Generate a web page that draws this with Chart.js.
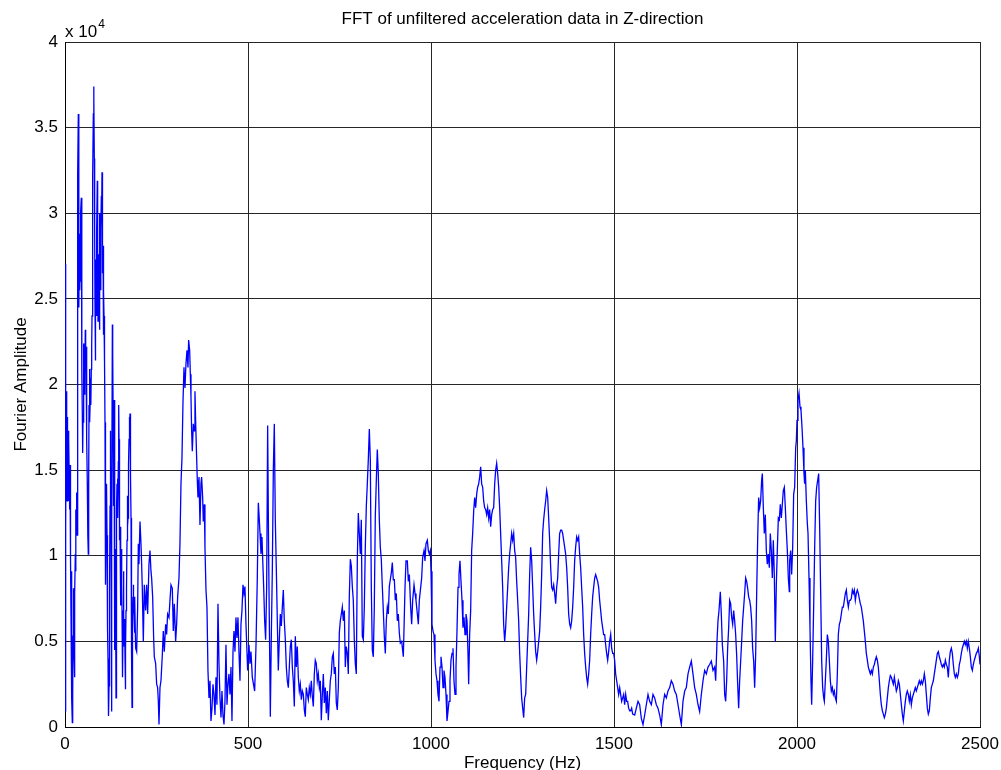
<!DOCTYPE html>
<html>
<head>
<meta charset="utf-8">
<title>FFT of unfiltered acceleration data in Z-direction</title>
<script src="https://cdn.jsdelivr.net/npm/chart.js@4/dist/chart.umd.min.js"></script>
<style>
  html, body { margin: 0; padding: 0; background: #ffffff; overflow: hidden; }
  #wrap { position: relative; width: 1001px; height: 770px; }
  canvas { display: block; }
</style>
</head>
<body>
<div id="wrap"><canvas id="fft" width="1001" height="770"></canvas></div>
<script>
// Spectrum of the Z-axis accelerometer signal, split into frequency bands.
// Each band: frequency (Hz) and the matching Fourier amplitude.

const band1Hz = [
  0, 0.9, 1.8, 2.7, 3.6, 4.6, 5.5, 6.4, 7.3, 8.2,
  9.1, 10.0, 10.9, 11.8, 12.7, 13.7, 14.6, 15.5, 16.4, 17.3,
  18.2, 19.1, 20.0, 21.0, 21.9, 22.8, 23.7, 24.6, 25.5, 26.4,
  27.3, 28.2, 29.1, 30.0, 30.9, 31.9, 32.8, 33.7, 34.6, 35.5,
  36.4, 37.3, 38.2, 39.2, 40.1, 41.0, 41.9, 42.8, 43.7, 44.6,
  45.5, 46.4, 47.4, 48.3, 49.2, 50.1, 51.0, 51.9, 52.8, 53.7,
  54.6, 55.5, 56.5, 57.4, 58.3, 59.2, 60.1, 61.0, 61.9, 62.8,
  63.7, 64.7, 65.6, 66.5, 67.4, 68.3, 69.2, 70.1, 71.0, 71.9,
  72.9, 73.8, 74.7, 75.6, 76.5, 77.4, 78.3, 79.2, 80.1, 81.0,
  82.0, 82.9, 83.8, 84.7, 85.6, 86.5, 87.4, 88.3, 89.2, 90.2,
  91.1, 92.0, 92.9, 93.8, 94.7, 95.6, 96.5, 97.4, 98.3, 99.3,
  100.2, 101.1, 102.0, 102.9, 103.9, 104.8, 105.7, 106.6, 107.5, 108.4,
  109.3, 110.2, 111.1, 112.1, 113.0, 113.9, 114.8, 115.7, 116.6, 117.5,
  118.4, 119.3, 120.3, 121.2, 122.1, 123.0, 123.9, 124.8, 125.7, 126.6,
  127.5, 128.4, 129.4, 130.3, 131.2, 132.1, 133.0, 133.9, 134.8, 135.7,
  136.6, 137.6, 138.5, 139.4, 140.3, 141.2, 142.1, 143.0, 143.9, 144.8,
  145.8, 146.7, 147.6, 148.5, 149.4, 150.3, 151.2, 152.1, 153.0, 154.0,
  154.9, 155.8, 156.7, 157.6, 158.5, 159.4, 160.3, 161.2, 162.2, 163.1,
  164.0, 164.9, 165.8, 166.7, 167.6, 168.5, 169.4, 170.3, 171.3, 172.2,
  173.1, 174.0, 174.9, 175.8, 176.7, 177.6, 178.5, 179.4, 180.4, 181.3,
  182.2, 183.1, 184.0, 184.9, 185.8, 186.7, 187.6, 188.6, 189.5, 190.4
];
const band1Amp = [
  27050, 900, 6500, 11700, 19600, 16800, 13200, 18100, 13700, 17300,
  15300, 13200, 16800, 14200, 12700, 15300, 12900, 9900, 6500, 9100,
  3500, 1700, 250, 1900, 5300, 8100, 6500, 4500, 2900, 5000,
  7800, 10100, 9100, 12700, 11700, 13700, 11200, 16800, 24500, 32200,
  35800, 33500, 24500, 28800, 25500, 26500, 26000, 28100, 30100, 30900,
  25500, 20900, 18100, 16000, 17800, 18600, 20400, 22400, 21900, 19400,
  20600, 23200, 21400, 22200, 19600, 19400, 16800, 14200, 12200, 11200,
  10100, 14200, 18800, 20900, 19400, 17800, 19400, 20400, 18800, 20900,
  22200, 24000, 26500, 27600, 32200, 35800, 37400, 36800, 33200, 29100,
  24500, 21400, 24000, 27300, 25500, 24000, 29100, 31900, 27600, 23700,
  26000, 27600, 25500, 23200, 26500, 30000, 28300, 25500, 29100, 31000,
  30100, 32400, 30100, 26500, 28100, 22900, 25500, 24000, 21900, 21400,
  17800, 14200, 8300, 11700, 12900, 14200, 11200, 8100, 5800, 4000,
  2200, 640, 2400, 5300, 7800, 12900, 17300, 15300, 12900, 6500,
  900, 11700, 23500, 21900, 19100, 16800, 12900, 19100, 14200, 4500,
  7800, 10400, 6500, 1700, 6500, 12700, 14200, 14500, 12700, 12200,
  15500, 18800, 16800, 12900, 10900, 11700, 9100, 7100, 8600, 10400,
  8300, 6800, 4500, 2900, 5800, 9100, 7100, 4700, 5500, 6300,
  4000, 2200, 4500, 6800, 7600, 8100, 10900, 13500, 11700, 12200,
  14200, 15300, 16800, 18100, 16800, 18300, 16800, 14700, 12200, 9100,
  4500, 1150, 3500, 6500, 7600, 8300, 7300, 6500, 5500, 6800
];

const band2Hz = [
  191.2, 193.0, 195.8, 198.5, 200.3, 202.1, 204.9, 207.6, 209.4, 211.2,
  214.0, 216.7, 220.3, 223.1, 225.8, 229.4, 232.2, 234.9, 236.7, 239.5,
  242.2, 244.0, 247.7, 250.4, 253.1, 255.0, 256.8, 259.5, 262.2, 265.9,
  268.6, 271.3, 275.0, 277.7, 280.4, 284.1, 286.8, 289.6, 293.2, 295.9,
  298.7, 302.3, 305.0, 307.8, 311.4, 314.1, 316.9, 319.6, 322.3, 325.1,
  327.8, 330.5, 333.3, 336.0, 337.8, 340.6, 342.4, 344.2, 346.0, 347.8,
  350.6, 353.3, 355.1, 356.9, 359.7, 361.5, 363.3, 366.1, 368.8, 371.5,
  373.3, 376.1, 377.9, 380.6, 382.4, 385.2, 387.9, 390.6, 393.4, 396.1,
  398.8, 401.6, 404.3, 407.0, 409.8, 412.5, 415.2, 418.0, 420.7, 423.4,
  426.2, 428.9, 431.6, 434.4, 437.1, 439.8, 442.6, 445.3, 448.0, 450.8,
  453.5, 456.2, 459.0, 461.7, 464.4, 467.1, 469.9, 472.6, 475.3, 478.1,
  480.8, 483.5, 486.3, 489.0, 491.7, 494.5, 497.2, 499.0, 502.7, 505.4,
  508.1, 511.8, 518.2, 521.8, 525.5, 528.2, 530.9, 532.8, 535.5, 538.2
];
const band2Amp = [
  7600, 4600, 4400, 7000, 10700, 9500, 12000, 10700, 9500, 8100,
  5000, 8300, 6800, 8300, 6600, 9500, 10300, 9100, 8700, 7600,
  5200, 4100, 3700, 2500, 2300, 1500, 150, 2300, 2700, 4200,
  5600, 4400, 6000, 5400, 6600, 6400, 7400, 8300, 8100, 5600,
  7200, 5000, 6000, 7600, 8700, 10700, 14200, 15700, 18900, 21000,
  19800, 21200, 22000, 21000, 22600, 22000, 20600, 19300, 17300, 16100,
  17700, 17300, 19600, 17900, 15700, 14400, 13400, 14600, 11800, 14200,
  14600, 13400, 12000, 13000, 10500, 8000, 7000, 3300, 1700, 2700,
  350, 1100, 2500, 1900, 700, 2900, 1300, 7200, 3700, 1700,
  550, 2100, 700, 150, 1500, 4800, 1300, 2500, 3100, 1900,
  3500, 350, 4400, 5600, 4400, 6400, 5200, 6400, 4400, 2700,
  6000, 6800, 8300, 7800, 8200, 6000, 4400, 3300, 4800, 3700,
  4400, 2900, 2100, 4700, 8800, 13100, 12100, 11300, 10100, 11100
];

const band3Hz = [
  540.0, 542.8, 545.5, 548.2, 551.0, 553.7, 556.4, 559.2, 561.0, 563.7,
  566.5, 569.2, 571.9, 574.6, 577.4, 580.1, 582.8, 585.6, 588.3, 591.0,
  593.8, 596.5, 599.2, 602.0, 604.7, 607.4, 610.2, 612.9, 615.6, 618.4,
  621.1, 623.8, 626.6, 629.3, 632.0, 634.7, 637.5, 640.2, 642.9, 645.7,
  648.4, 651.2, 653.9, 656.6, 659.3, 662.1, 664.8, 667.5, 670.3, 673.0,
  675.7, 678.5, 681.2, 683.9, 686.7, 689.4, 692.1, 694.9, 697.6, 700.3,
  703.1, 705.8, 708.5, 711.2, 714.0, 716.7, 719.4, 722.2, 724.9, 727.6,
  730.4, 733.1, 735.8, 738.6, 741.3, 744.0, 746.8, 749.5, 752.2, 755.0,
  757.7, 760.4, 763.2, 765.9, 768.6, 771.4, 774.1, 776.8, 779.6, 782.3,
  785.0, 787.7, 790.5, 793.2, 795.9, 798.7, 801.4, 804.1, 806.9, 809.6,
  812.3, 815.1, 817.8, 820.5, 823.3, 826.0, 828.7, 831.5, 834.2, 836.9,
  839.6, 842.4, 845.1, 847.8, 850.6, 853.3, 856.0, 858.8, 861.5, 864.2,
  867.0, 869.7, 872.4, 875.2, 877.9, 880.6, 883.4, 886.1, 888.8, 891.6,
  894.3, 897.0, 899.8, 902.5, 905.2, 908.0, 910.7, 913.4, 916.2, 919.9
];
const band3Amp = [
  9900, 8200, 6200, 5100, 8200, 17600, 10100, 4300, 600, 5300,
  9200, 15000, 17700, 12100, 9200, 6200, 3300, 5100, 6600, 5900,
  7000, 8000, 6200, 5100, 3500, 2700, 2300, 3500, 4700, 5100,
  3500, 2700, 1200, 5300, 3500, 4700, 2900, 2100, 2500, 1600,
  2100, 1900, 1000, 600, 2300, 1900, 1600, 2300, 1900, 2700,
  1800, 1200, 3100, 3900, 3700, 2700, 3100, 2300, 2700, 400,
  1900, 3100, 1400, 2300, 800, 2100, 400, 1600, 2700, 3100,
  4100, 4300, 3100, 3500, 1400, 1000, 2300, 5500, 6200, 6600,
  7000, 6200, 6800, 3500, 4700, 4300, 3100, 7600, 9800, 9400,
  8200, 7400, 5100, 3700, 3100, 9800, 12500, 11300, 10100, 12100,
  5300, 5100, 7000, 10500, 12900, 14200, 15600, 17400, 15600, 8200,
  4500, 4100, 7000, 12300, 14400, 16200, 14800, 12100, 10500, 9800,
  8200, 6800, 5300, 4300, 6200, 7000, 6600, 8200, 8600, 9000,
  9600, 8600, 8600, 7400, 7800, 6200, 6600, 5500, 4900, 5000
];

const band4Hz = [
  924.4, 929.0, 931.7, 935.3, 938.1, 940.8, 944.4, 947.2, 949.9, 953.6,
  956.3, 959.0, 962.7, 965.4, 968.1, 971.8, 974.5, 977.2, 980.9, 983.6,
  986.3, 990.0, 992.7, 995.4, 998.2, 1000.0, 1002.7, 1005.5, 1008.2, 1010.9,
  1013.7, 1016.4, 1019.1, 1021.9, 1024.6, 1027.3, 1030.1, 1032.8, 1035.5, 1038.2,
  1041.0, 1043.7, 1046.4, 1049.2, 1051.9, 1054.6, 1057.4, 1060.1, 1062.8, 1065.6,
  1068.3, 1071.0, 1073.8, 1076.5, 1079.2, 1082.0, 1084.7, 1087.4, 1090.2, 1092.9,
  1095.6, 1098.4, 1101.1, 1102.9, 1105.6, 1108.4, 1111.1, 1113.8, 1116.6, 1119.3,
  1122.0, 1124.8, 1127.5, 1130.2, 1133.0, 1135.7, 1138.4, 1141.2, 1143.9, 1146.6,
  1149.4, 1152.1, 1154.8, 1157.6, 1160.3, 1163.0, 1165.8, 1168.5, 1171.2, 1174.0,
  1176.7, 1179.4, 1182.2, 1184.9, 1187.6, 1190.3, 1193.1, 1195.8, 1198.5, 1201.3,
  1204.0, 1206.7, 1209.5, 1212.2, 1214.9, 1217.7, 1220.4, 1223.1, 1225.9, 1228.6,
  1231.3, 1234.1, 1236.8, 1239.5, 1242.3, 1245.0, 1247.7, 1250.5, 1253.2, 1255.9,
  1258.7, 1261.4, 1264.1, 1266.9, 1269.6, 1272.3, 1275.1, 1277.8, 1280.5, 1283.3,
  1286.0, 1288.7, 1291.5, 1294.2, 1296.9, 1299.6, 1302.4, 1305.1, 1307.8, 1310.6,
  1313.3, 1316.0, 1318.8, 1321.5, 1324.2, 1327.0, 1329.7, 1332.4, 1335.2, 1337.9,
  1340.6, 1343.3, 1346.1, 1348.8, 1351.5, 1354.3, 1357.0, 1359.7, 1362.5, 1365.2,
  1367.9, 1370.7, 1373.4, 1376.1, 1378.9, 1381.6, 1384.3, 1387.1, 1389.8, 1392.5,
  1395.2, 1398.0, 1400.7, 1403.4, 1406.2, 1408.9, 1411.6, 1414.4, 1417.1, 1419.8,
  1422.6, 1425.3, 1428.0, 1430.8, 1433.5, 1436.2, 1439.0, 1441.7, 1444.4, 1447.2,
  1449.9, 1452.6, 1455.4, 1458.1, 1460.8, 1463.6, 1466.3, 1469.0, 1471.7, 1474.5,
  1477.2, 1479.9, 1482.7, 1485.4, 1488.1, 1490.9, 1493.6, 1496.3, 1499.1, 1501.8,
  1504.5, 1507.3, 1510.0, 1512.7, 1515.5, 1518.2, 1520.9, 1523.7, 1526.4, 1529.1,
  1531.9, 1534.6, 1537.3, 1540.0, 1542.8, 1545.5, 1548.2, 1551.0
];
const band4Amp = [
  4100, 8150, 9700, 9700, 8500, 8900, 7000, 6000, 7400, 8300,
  7800, 7400, 6600, 6000, 7400, 8150, 8700, 9900, 10300, 9700,
  10700, 10900, 10300, 10100, 10300, 9100, 6000, 5600, 5400, 3900,
  3100, 2700, 1900, 1500, 3500, 4100, 3500, 2300, 3300, 2900,
  1900, 350, 900, 1500, 2700, 3900, 4300, 4600, 2700, 1900,
  3500, 5600, 8150, 8900, 9700, 8500, 7400, 5800, 6400, 5400,
  6600, 6200, 4300, 2500, 5400, 6800, 10300, 11300, 12600, 13400,
  12800, 13600, 14000, 14200, 14600, 15200, 14200, 14000, 13200, 12800,
  12700, 12400, 12800, 12200, 12700, 11700, 12400, 12700, 12800, 14200,
  15000, 15400, 14800, 14000, 12800, 11300, 9700, 8150, 6000, 5000,
  5800, 7000, 8150, 9300, 10100, 10700, 11300, 10900, 11300, 10300,
  9900, 8500, 7400, 6200, 4300, 2900, 1700, 1100, 550, 1700,
  1900, 3500, 5000, 6600, 8900, 10500, 9700, 8150, 6600, 5400,
  4400, 3900, 4400, 5000, 5600, 7000, 8900, 11300, 12100, 12700,
  13200, 13800, 13400, 12200, 10900, 9300, 8150, 8000, 8300, 7800,
  7200, 8150, 8700, 10100, 11300, 11500, 11500, 11300, 10900, 10500,
  10100, 9300, 8150, 6600, 6000, 5800, 6200, 7000, 8150, 9700,
  10500, 11100, 10900, 11100, 10100, 9300, 8150, 7000, 5400, 4300,
  3500, 2900, 2500, 3100, 3900, 5400, 6600, 7600, 8150, 8700,
  8900, 8700, 8500, 8150, 7400, 6800, 6200, 5800, 5400, 5400,
  4800, 4300, 3900, 4400, 5000, 5400, 4600, 4300, 4300, 3900,
  3100, 2700, 2300, 1900, 2300, 1900, 1500, 1700, 1900, 1300,
  1900, 1500, 1500, 1100, 950, 950, 1100, 750
];

const band5Hz = [
  1556.5, 1561.0, 1565.6, 1570.1, 1574.7, 1579.2, 1583.8, 1588.3, 1592.9, 1597.4,
  1602.0, 1606.6, 1611.1, 1615.7, 1620.2, 1624.8, 1629.3, 1633.9, 1638.4, 1643.0,
  1647.5, 1652.1, 1656.6, 1661.2, 1665.7, 1670.3, 1674.9, 1679.4, 1684.0, 1688.5,
  1693.1, 1697.6, 1702.2, 1706.7, 1711.3, 1715.8, 1720.4, 1724.9, 1729.5, 1734.0,
  1738.6, 1743.2, 1747.7, 1752.3, 1756.8, 1761.4, 1765.9, 1770.5, 1775.0, 1777.8,
  1781.4, 1784.1, 1786.9, 1790.5, 1793.2, 1796.0, 1799.6, 1802.4, 1805.1, 1807.8,
  1810.5, 1813.3, 1816.0, 1818.7, 1821.5, 1824.2, 1826.9, 1829.7, 1832.4, 1835.1,
  1837.9, 1840.6, 1843.3, 1846.1, 1848.8, 1851.5, 1854.3, 1857.0, 1859.7, 1862.5,
  1865.2, 1867.9, 1870.7, 1873.4, 1876.1, 1878.8, 1881.6, 1884.3, 1887.0, 1889.8,
  1892.5, 1895.2, 1898.0, 1900.7, 1903.4, 1905.3, 1908.0, 1910.7, 1913.4, 1916.2,
  1918.9, 1921.6, 1924.4, 1927.1, 1929.8, 1932.6, 1935.3, 1938.0, 1940.8, 1943.5,
  1946.2, 1949.0, 1951.7, 1954.4, 1957.2, 1959.9, 1962.6, 1965.4, 1968.1, 1970.8,
  1973.6, 1976.3, 1979.0
];
const band5Amp = [
  700, 1100, 1500, 1300, 500, 140, 700, 1300, 1900, 1500,
  1300, 1900, 1700, 1300, 1100, 700, 140, 1300, 1900, 1700,
  2100, 2300, 2700, 2500, 2100, 1900, 1300, 700, 140, 1500,
  2100, 2300, 3100, 3500, 3850, 3100, 2300, 1900, 1300, 900,
  1900, 2700, 3300, 3100, 3500, 3650, 3850, 3300, 3500, 2700,
  5000, 6200, 6800, 7900, 6600, 4800, 3850, 1900, 1500, 2700,
  4600, 5800, 7400, 7200, 6400, 6000, 6800, 6200, 5400, 4200,
  2500, 1100, 2700, 3850, 5000, 6200, 7000, 7800, 8700, 8500,
  8100, 7600, 7400, 7000, 6200, 4600, 3850, 2300, 4200, 7800,
  10900, 13400, 12800, 13200, 14400, 14800, 12800, 11300, 12400, 10300,
  9500, 10100, 9300, 11300, 10300, 8700, 10900, 8900, 5000, 8300,
  10300, 12200, 12100, 13000, 12200, 13000, 13800, 14000, 12800, 11500,
  10300, 8700, 7900
];

const band6Hz = [
  1980.0, 1982.7, 1985.4, 1988.2, 1990.9, 1993.6, 1996.4, 1998.2, 2000.0, 2002.7,
  2005.5, 2008.2, 2010.9, 2013.7, 2016.4, 2019.1, 2020.9, 2022.8, 2025.5, 2028.2,
  2030.1, 2032.8, 2035.5, 2038.2, 2040.1, 2042.8, 2045.5, 2048.3, 2051.0, 2053.7,
  2056.5, 2059.2, 2061.9, 2064.7, 2067.4, 2070.1, 2072.9, 2074.7, 2077.4, 2080.1,
  2082.9, 2085.6, 2088.3, 2091.1, 2093.8, 2096.5, 2099.3, 2102.0, 2104.7, 2107.5,
  2110.2, 2112.9, 2115.7, 2118.4, 2121.1, 2123.9, 2126.6, 2129.3, 2132.1, 2134.8,
  2137.5, 2140.3, 2143.0, 2145.7, 2148.4, 2151.2, 2153.9, 2156.6, 2159.4, 2162.1,
  2164.8, 2167.6, 2170.3, 2173.0, 2175.8, 2178.5, 2181.2, 2184.0, 2186.7, 2189.4,
  2192.2, 2194.9, 2197.6, 2200.4, 2203.1, 2205.8, 2208.6, 2211.3, 2214.0, 2216.8,
  2219.5, 2222.2, 2225.0, 2227.7, 2230.4, 2233.2, 2235.9, 2238.6, 2241.4, 2244.1,
  2246.8, 2249.6, 2252.3, 2255.0, 2257.8, 2260.5, 2263.2, 2266.0, 2268.7, 2271.4,
  2274.2, 2276.9, 2279.6, 2282.4, 2285.1, 2287.8, 2290.5, 2293.3, 2296.0, 2298.7,
  2301.4, 2304.2, 2306.9, 2309.7, 2312.4, 2315.1, 2317.8, 2320.6, 2323.3, 2326.0,
  2328.8, 2331.5, 2334.2, 2337.0, 2339.7, 2342.4, 2345.2, 2347.9, 2350.6, 2353.4,
  2356.1, 2358.8, 2361.6, 2364.3, 2367.0, 2369.8, 2372.5, 2375.2, 2378.0, 2380.7,
  2383.4, 2386.2, 2388.9, 2391.6, 2394.3, 2397.1, 2399.8, 2402.5, 2405.3, 2408.0,
  2410.7, 2413.5, 2416.2, 2418.9, 2421.7, 2424.4, 2427.1, 2429.9, 2432.6, 2435.3,
  2438.1, 2440.8, 2443.5, 2446.3, 2449.0, 2451.7, 2454.5, 2457.2, 2459.9, 2462.7,
  2465.4, 2468.1, 2470.9, 2473.6, 2476.3, 2479.1, 2481.8, 2484.5, 2487.3, 2490.0,
  2492.7, 2495.5, 2498.2, 2500.0
];
const band6Amp = [
  9700, 10300, 8900, 10500, 13600, 14000, 16300, 16700, 17900, 19100,
  19500, 18700, 18500, 17500, 16300, 14800, 14200, 15000, 13200, 11900,
  11300, 8700, 5800, 2700, 1300, 3900, 7000, 10500, 13200, 14000,
  14400, 14800, 11700, 7800, 3900, 2300, 1700, 1500, 2700, 3900,
  5400, 5000, 3900, 2700, 2100, 2300, 1900, 2100, 1700, 1500,
  3100, 5400, 6000, 6200, 6600, 7000, 7000, 7400, 7800, 8000,
  7400, 7000, 7400, 7400, 7500, 8000, 7800, 8000, 7400, 7800,
  8000, 7800, 7500, 7200, 7000, 6600, 6200, 5600, 5000, 4300,
  3900, 3500, 3300, 3100, 3300, 3100, 3500, 3650, 3900, 4100,
  3900, 3500, 2700, 1900, 1300, 950, 750, 550, 750, 1100,
  1700, 2300, 2700, 3000, 2900, 2700, 2500, 2900, 2500, 2100,
  2300, 2700, 2500, 1900, 1300, 750, 350, 950, 1500, 1900,
  2100, 1900, 1500, 1900, 1300, 1700, 1900, 2100, 2300, 2100,
  2300, 2500, 2700, 2500, 2700, 2500, 2700, 3100, 2700, 1900,
  1100, 750, 950, 1700, 2300, 2500, 2700, 3100, 3500, 3900,
  4300, 4400, 4100, 3900, 3650, 3500, 3650, 3500, 3900, 3650,
  3500, 2900, 3900, 4400, 4600, 4300, 3650, 3100, 2900, 3100,
  2900, 3100, 3650, 3900, 4300, 4600, 4800, 5000, 4800, 5000,
  4600, 5000, 4600, 4100, 3500, 3300, 3650, 3900, 4100, 4300,
  4400, 4600, 4100, 3650
];

// Axis ticks and labels (amplitude axis is shown in units of 10^4)
const xTicksHz = [0, 500, 1000, 1500, 2000, 2500];
const yTickValues = [0, 5000, 10000, 15000, 20000, 25000, 30000, 35000, 40000];
const yTickLabels = ['0', '0.5', '1', '1.5', '2', '2.5', '3', '3.5', '4'];

const TITLE = 'FFT of unfiltered acceleration data in Z-direction';
const X_TITLE = 'Frequency (Hz)';
const Y_TITLE = 'Fourier Amplitude';
const FONT_FAMILY = '"Liberation Sans", Arial, Helvetica, sans-serif';

const bands = [
  [band1Hz, band1Amp], [band2Hz, band2Amp], [band3Hz, band3Amp],
  [band4Hz, band4Amp], [band5Hz, band5Amp], [band6Hz, band6Amp]
];
const spectrum = [];
for (const [hz, amp] of bands) {
  const n = Math.min(hz.length, amp.length);
  for (let i = 0; i < n; i++) spectrum.push({ x: hz[i], y: amp[i] });
}

// Title, axis captions and the x 10^4 exponent marker
const captions = {
  id: 'captions',
  afterDraw(chart) {
    const { ctx, chartArea: a } = chart;
    const cx = (a.left + a.right) / 2;
    const cy = (a.top + a.bottom) / 2;
    ctx.save();
    ctx.fillStyle = '#000';
    ctx.font = '17px ' + FONT_FAMILY;
    ctx.textAlign = 'center';
    ctx.textBaseline = 'alphabetic';
    ctx.fillText(TITLE, cx, 24);
    ctx.fillText(X_TITLE, cx, 768);
    ctx.save();
    ctx.translate(26, cy);
    ctx.rotate(-Math.PI / 2);
    ctx.fillText(Y_TITLE, 0, 0);
    ctx.restore();
    ctx.textAlign = 'left';
    ctx.fillText('x 10', a.left, a.top - 5);
    const w = ctx.measureText('x 10').width;
    ctx.font = '12px ' + FONT_FAMILY;
    ctx.fillText('4', a.left + w + 1, a.top - 14);
    ctx.restore();
  }
};

new Chart(document.getElementById('fft'), {
  type: 'line',
  data: {
    datasets: [{
      data: spectrum,
      borderColor: '#0000ff',
      borderWidth: 1.3,
      pointRadius: 0,
      pointHoverRadius: 0,
      tension: 0,
      fill: false
    }]
  },
  options: {
    responsive: false,
    devicePixelRatio: 1,
    animation: false,
    events: [],
    layout: { padding: { left: 0, right: 21, top: 42, bottom: 0 } },
    plugins: { legend: { display: false }, title: { display: false }, tooltip: { enabled: false } },
    scales: {
      x: {
        type: 'linear',
        min: 0,
        max: 2500,
        afterBuildTicks(scale) { scale.ticks = xTicksHz.map(v => ({ value: v })); },
        afterFit(scale) {
          scale.height = 43;
          scale.paddingLeft = 0;
          scale.paddingRight = 0;
        },
        ticks: {
          color: '#000',
          font: { family: FONT_FAMILY, size: 17 },
          padding: 7,
          maxRotation: 0,
          autoSkip: false,
          callback: v => String(v)
        },
        grid: { color: '#262626', lineWidth: 1, drawTicks: false },
        border: { color: '#000', width: 1 }
      },
      y: {
        type: 'linear',
        min: 0,
        max: 40000,
        afterBuildTicks(scale) { scale.ticks = yTickValues.map(v => ({ value: v })); },
        afterFit(scale) {
          scale.width = 65;
          scale.paddingTop = 0;
          scale.paddingBottom = 0;
        },
        ticks: {
          color: '#000',
          font: { family: FONT_FAMILY, size: 17 },
          padding: 7,
          autoSkip: false,
          callback: (v, i) => yTickLabels[i]
        },
        grid: { color: '#262626', lineWidth: 1, drawTicks: false },
        border: { color: '#000', width: 1 }
      }
    }
  },
  plugins: [captions]
});
</script>
</body>
</html>
